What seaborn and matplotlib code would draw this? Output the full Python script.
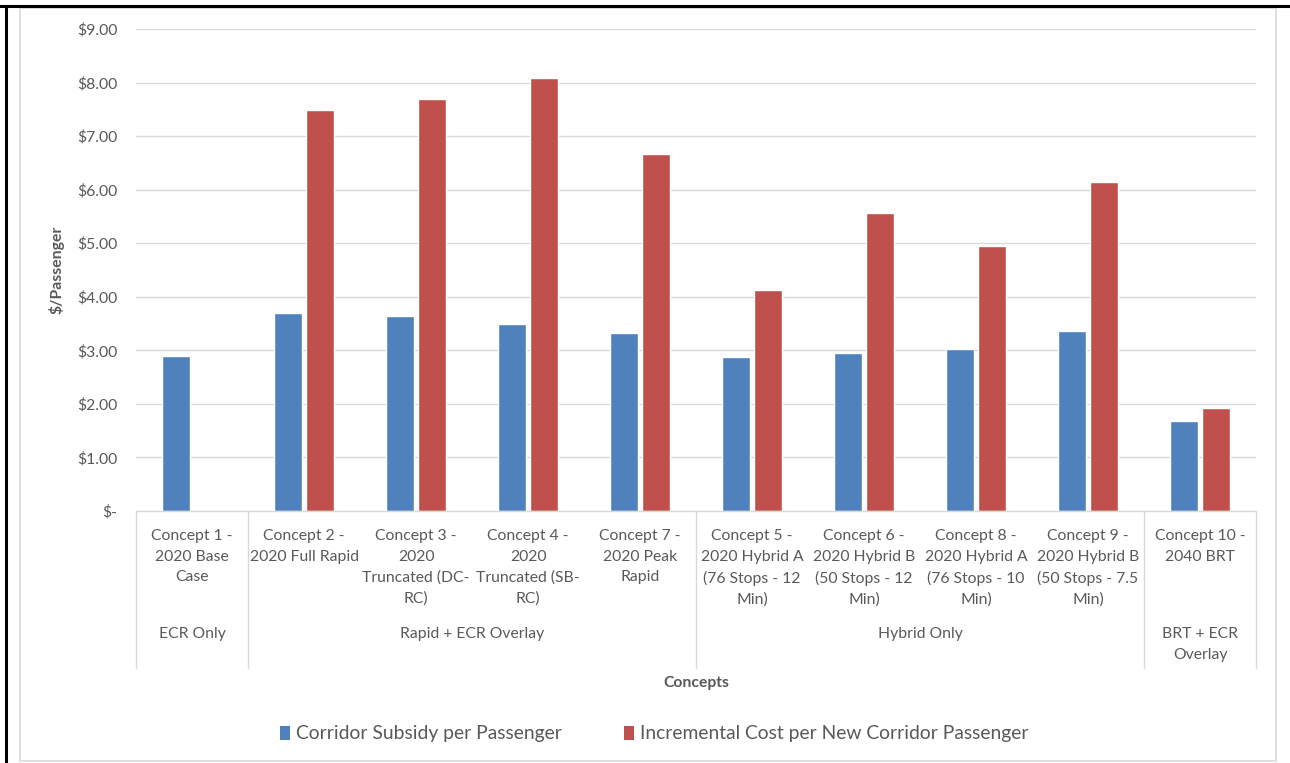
import matplotlib
matplotlib.use("Agg")
import matplotlib.pyplot as plt
import matplotlib.transforms as mtransforms
from matplotlib.lines import Line2D
from matplotlib.patches import Rectangle
import numpy as np
import pandas as pd
import seaborn as sns

# ---------------- data ----------------
concepts = [
    "Concept 1 -\n2020 Base\nCase",
    "Concept 2 -\n2020 Full Rapid",
    "Concept 3 -\n2020\nTruncated (DC-\nRC)",
    "Concept 4 -\n2020\nTruncated (SB-\nRC)",
    "Concept 7 -\n2020 Peak\nRapid",
    "Concept 5 -\n2020 Hybrid A\n(76 Stops - 12\nMin)",
    "Concept 6 -\n2020 Hybrid B\n(50 Stops - 12\nMin)",
    "Concept 8 -\n2020 Hybrid A\n(76 Stops - 10\nMin)",
    "Concept 9 -\n2020 Hybrid B\n(50 Stops - 7.5\nMin)",
    "Concept 10 -\n2040 BRT",
]
groups = ["ECR Only", "Rapid + ECR Overlay", "Hybrid Only", "BRT + ECR\nOverlay"]
group_sizes = [1, 4, 4, 1]
series = ["Corridor Subsidy per Passenger", "Incremental Cost per New Corridor Passenger"]
subsidy = [2.90, 3.69, 3.65, 3.50, 3.32, 2.87, 2.95, 3.02, 3.37, 1.68]
incremental = [np.nan, 7.49, 7.69, 8.09, 6.66, 4.12, 5.57, 4.94, 6.14, 1.93]
yticks = [0, 1, 2, 3, 4, 5, 6, 7, 8, 9]

colors = ["#4F81BD", "#C0504D"]
text_color = "#595959"

df = pd.DataFrame({
    "concept": concepts * 2,
    "series": [series[0]] * len(concepts) + [series[1]] * len(concepts),
    "value": subsidy + incremental,
})

# ---------------- figure ----------------
sns.set_theme(style="white")
plt.rcParams["font.family"] = ["Lato", "DejaVu Sans"]

W, H = 1290, 763
fig = plt.figure(figsize=(W / 100, H / 100), dpi=100)
fig.patch.set_facecolor("white")

L, R, T, B = 136, 1256, 29, 511
ax = fig.add_axes([L / W, 1 - B / H, (R - L) / W, (B - T) / H])

sns.barplot(data=df, x="concept", y="value", hue="series", order=concepts,
            hue_order=series, palette=colors, saturation=1, width=0.57,
            gap=0.15, errorbar=None, ax=ax, legend=False)

FS = 11.3
LS = 1.6
ax.set_ylim(0, 9)
ax.set_xlim(-0.5, len(concepts) - 0.5)
ax.set_yticks(yticks)
ax.set_yticklabels(["$-" if v == 0 else f"${v:.2f}" for v in yticks])
ax.yaxis.grid(True, color="#D9D9D9", linewidth=1.0)
ax.set_axisbelow(True)
for s in ["top", "right", "left"]:
    ax.spines[s].set_visible(False)
ax.spines["bottom"].set_color("#D9D9D9")
ax.spines["bottom"].set_linewidth(1.0)
ax.tick_params(axis="y", length=0, pad=13.5, labelsize=FS, labelcolor=text_color)
ax.tick_params(axis="x", length=0, pad=13, labelsize=FS, labelcolor=text_color)
for lab in ax.get_xticklabels():
    lab.set_linespacing(LS)
ax.set_xlabel("")
ax.set_ylabel("")

# multi-level category axis
trans = mtransforms.blended_transform_factory(ax.transData, ax.transAxes)
axh = B - T
sep_bottom = -(668 - B) / axh
bounds = np.concatenate([[0], np.cumsum(group_sizes)]) - 0.5
for b in bounds:
    ax.add_line(Line2D([b, b], [0, sep_bottom], transform=trans, color="#D9D9D9",
                       linewidth=1.0, clip_on=False))
for g, lo, hi in zip(groups, bounds[:-1], bounds[1:]):
    ax.text((lo + hi) / 2, -(627 - B) / axh, g, transform=trans, ha="center",
            va="top", fontsize=FS, color=text_color, linespacing=LS)

ax.text(0.5, -(683 - B) / axh, "Concepts", transform=ax.transAxes, ha="center",
        va="center", fontsize=FS, fontweight="bold", color=text_color)
ax.text(-(L - 57) / (R - L), 0.5, "$/Passenger", transform=ax.transAxes,
        ha="center", va="center", rotation=90, fontsize=FS, fontweight="bold",
        color=text_color)

# legend
handles = [Rectangle((0, 0), 1, 1, facecolor=c, edgecolor="none") for c in colors]
fig.legend(handles, series, loc="center", bbox_to_anchor=(654 / W, 1 - 734 / H),
           ncol=2, frameon=False, fontsize=13.9, handlelength=0.55, handleheight=0.7,
           handletextpad=0.3, columnspacing=3.2, labelcolor=text_color)

# outer frame (chart border + screenshot border)
fig.patches.append(Rectangle((20 / W, 1 - 761 / H), (1276 - 20) / W, (761 - 8) / H,
                             transform=fig.transFigure, facecolor="none",
                             edgecolor="#D9D9D9", linewidth=1.2))
fig.lines.append(Line2D([0, 1], [1 - 6 / H, 1 - 6 / H], transform=fig.transFigure,
                        color="black", linewidth=2.2))
fig.lines.append(Line2D([5.5 / W, 5.5 / W], [0, 1 - 6 / H], transform=fig.transFigure,
                        color="black", linewidth=2.2))

fig.savefig("out.png", dpi=100)
